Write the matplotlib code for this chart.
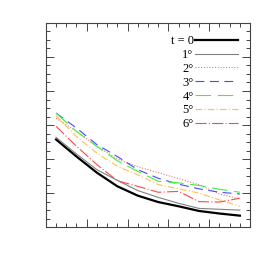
import matplotlib
matplotlib.use("Agg")
import matplotlib.pyplot as plt
from matplotlib.ticker import MultipleLocator

x = [1, 3, 5, 7, 9, 11, 13, 15, 17, 19]

labels = ["t = 0", "1°", "2°", "3°", "4°", "5°", "6°"]
t0 = [10.3, 8.3, 6.4, 4.8, 3.7, 2.95, 2.45, 1.9, 1.6, 1.35]
d1 = [10.55, 8.6, 6.75, 5.5, 4.3, 3.5, 2.8, 2.2, 2.1, 2.0]
d2 = [12.8, 11.25, 9.5, 8.0, 7.1, 6.4, 5.7, 5.0, 3.9, 3.3]
d3 = [13.4, 11.65, 9.7, 8.3, 6.75, 5.75, 5.05, 4.5, 4.1, 3.9]
d4 = [13.4, 11.25, 9.5, 7.8, 6.55, 5.4, 5.2, 4.9, 4.45, 4.1]
d5 = [13.1, 10.65, 8.7, 7.15, 6.15, 5.0, 4.5, 4.0, 3.2, 2.45]
d6 = [11.85, 9.5, 7.35, 5.45, 4.8, 4.1, 4.2, 3.0, 2.95, 3.4]

series = [t0, d1, d2, d3, d4, d5, d6]
colors = ["black", "#808080", "#e07878", "#4848ff", "#40f040", "#ffc050", "#ff4848"]
styles = ["-", "-", (0, (1, 1.5)), (0, (8, 5)), (0, (14, 6)), (0, (6, 2, 1, 2)), (0, (10, 2, 1, 2))]
widths = [1.6, 0.8, 0.8, 0.8, 0.8, 0.8, 0.8]

fig = plt.figure(figsize=(2.73, 2.73), dpi=100)
ax = fig.add_axes([0.168, 0.168, 0.748, 0.748])

for y, c, ls, lw, lab in zip(series, colors, styles, widths, labels):
    ax.plot(x, y, color=c, linestyle=ls, linewidth=lw, label=lab)

ax.set_xlim(0, 20)
ax.set_ylim(0, 24)
ax.xaxis.set_major_locator(MultipleLocator(4))
ax.xaxis.set_minor_locator(MultipleLocator(1))
ax.yaxis.set_major_locator(MultipleLocator(4))
ax.yaxis.set_minor_locator(MultipleLocator(1))
ax.tick_params(which="both", direction="in", top=True, right=True,
               labelbottom=False, labelleft=False, color="#444444", width=0.7)
ax.tick_params(which="major", length=5.5)
ax.tick_params(which="minor", length=3)
for s in ax.spines.values():
    s.set_color("#444444")
    s.set_linewidth(0.8)

ax.legend(loc="upper right", frameon=False, markerfirst=False,
          prop={"family": "Liberation Serif", "size": 9},
          handlelength=3.4, handletextpad=0.15, labelspacing=0.15,
          borderaxespad=0.0, bbox_to_anchor=(0.965, 0.965))

fig.savefig("out.png", dpi=100)
